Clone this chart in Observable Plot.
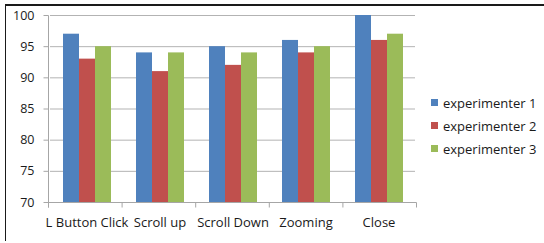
<!DOCTYPE html>
<html><head><meta charset="utf-8">
<script src="https://cdn.jsdelivr.net/npm/d3@7"></script>
<script src="https://cdn.jsdelivr.net/npm/@observablehq/plot@0.6"></script>
<style>
body{margin:0;background:#fff;}
#wrap{position:relative;width:544px;height:243px;overflow:hidden;font-family:"Open Sans",sans-serif;}
#border{position:absolute;left:5px;top:4px;right:-10px;bottom:2px;border-top:2px solid #1a1a1a;border-left:1px solid #1a1a1a;pointer-events:none}
#legend{position:absolute;left:431px;top:91px;font-size:13px;color:#1a1a1a}
.row{height:23px;display:flex;align-items:center;white-space:nowrap}
.sw{width:7px;height:7px;margin-right:5px;flex:none}
svg{position:absolute;left:0;top:0}
</style></head>
<body><div id="wrap"><div id="legend"></div><div id="border"></div></div>
<script>
const categories = ["L Button Click", "Scroll up", "Scroll Down", "Zooming", "Close"];
const series = ["experimenter 1", "experimenter 2", "experimenter 3"];
const exp1 = [97, 94, 95, 96, 100];
const exp2 = [93, 91, 92, 94, 96];
const exp3 = [95, 94, 94, 95, 97];
const colors = ["#4F81BD", "#C0504D", "#9BBB59"];
const yTicks = [70, 75, 80, 85, 90, 95, 100];

const values = [exp1, exp2, exp3];
const data = categories.flatMap((c, i) => values.map((v, j) => ({category: c, series: series[j], value: v[i]})));

const plot = Plot.plot({
  width: 544, height: 243,
  marginLeft: 48, marginRight: 128, marginTop: 15, marginBottom: 41,
  style: {fontFamily: "Open Sans", fontSize: "12.5px", color: "#1a1a1a", background: "transparent", overflow: "visible"},
  fx: {domain: categories, padding: 0, axis: "bottom", label: null, tickSize: 0, tickPadding: 15},
  x: {domain: series, axis: null, paddingInner: 0, paddingOuter: 0.75},
  y: {domain: [yTicks[0], yTicks[yTicks.length - 1]], ticks: yTicks, tickSize: 0, tickPadding: 16, label: null, axis: "left"},
  color: {domain: series, range: colors},
  marks: [
    Plot.ruleY(yTicks, {stroke: "#b3b3b3"}),
    Plot.barY(data, {fx: "category", x: "series", y1: yTicks[0], y2: "value", fill: "series"})
  ]
});

const svg = d3.select(plot);
// slightly larger category labels
svg.selectAll('[aria-label^="fx-axis"] text').attr("font-size", "13px");
const fx = plot.scale("fx"), y = plot.scale("y");
const [r0, r1] = fx.range;
const step = (r1 - r0) / fx.domain.length;
const yB = y.apply(yTicks[0]), yT = y.apply(yTicks[yTicks.length - 1]);
const g = svg.append("g").attr("stroke", "#a6a6a6").attr("transform", "translate(0.5,0.5)");
g.append("line").attr("x1", r0).attr("x2", r0).attr("y1", yT).attr("y2", yB + 5);
g.append("line").attr("x1", r0).attr("x2", r1).attr("y1", yB).attr("y2", yB);
for (let i = 0; i <= fx.domain.length; i++) {
  const xx = r0 + i * step;
  g.append("line").attr("x1", xx).attr("x2", xx).attr("y1", yB).attr("y2", yB + 5);
}
for (const t of yTicks) {
  const yy = y.apply(t);
  g.append("line").attr("x1", r0 - 5).attr("x2", r0).attr("y1", yy).attr("y2", yy);
}

const wrap = document.getElementById("wrap");
wrap.insertBefore(plot, wrap.firstChild);

const legend = document.getElementById("legend");
series.forEach((s, i) => {
  const row = document.createElement("div");
  row.className = "row";
  const sw = document.createElement("span");
  sw.className = "sw";
  sw.style.background = colors[i];
  const tx = document.createElement("span");
  tx.textContent = s;
  row.appendChild(sw); row.appendChild(tx);
  legend.appendChild(row);
});
</script>
</body></html>
